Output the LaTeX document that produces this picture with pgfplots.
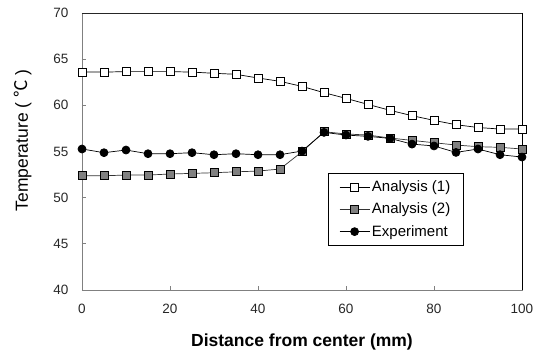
\documentclass[border=0pt]{standalone}
\usepackage{pgfplots}
\pgfplotsset{compat=1.18}
\usepackage{fontspec}
\setmainfont{Liberation Sans}
\newfontfamily\cjk{Noto Sans CJK SC}
\definecolor{axgray}{RGB}{128,128,128}
\definecolor{mkgray}{RGB}{128,128,128}
\newcommand{\lf}{\fontsize{15}{17}\selectfont}
\begin{document}
\begin{tikzpicture}[x=1pt,y=1pt]
\useasboundingbox (-82,-65) rectangle (460,290);
\begin{axis}[
  at={(0,0)}, anchor=south west,
  scale only axis, width=440pt, height=277pt,
  xmin=0, xmax=100, ymin=40, ymax=70,
  xtick={0,20,...,100}, ytick={40,45,...,70},
  tick align=inside, major tick length=4pt,
  xtick pos=bottom, ytick pos=left,
  axis line style={axgray, line width=0.8pt},
  every tick/.style={axgray, line width=0.8pt},
  /pgf/number format/assume math mode=true,
  tick label style={font=\fontsize{13.5}{15}\selectfont, text=black!85},
  xticklabel style={yshift=-11pt},
  yticklabel style={xshift=-10pt},
  xlabel={\textbf{Distance from center (mm)}},
  ylabel={Temperature ( {\cjk ℃} )},
  xlabel style={font=\fontsize{17.5}{20}\selectfont, at={(axis description cs:0.5,0)}, anchor=center, yshift=-52pt},
  ylabel style={font=\fontsize{17.5}{19}\selectfont, at={(axis description cs:-0.134,0.54)}, anchor=center},
  legend style={at={(axis description cs:0.559,0.162)}, anchor=south west,
    draw=black, line width=0.6pt, font=\lf,
    row sep=6pt, inner xsep=11pt, inner ysep=5pt, cells={anchor=west}},
  legend image code/.code={\draw[mark repeat=2,mark phase=2,#1] plot coordinates {(0pt,0pt) (15pt,0pt) (30pt,0pt)};},
  clip=false,
]
\addplot[black, line width=0.7pt, mark=square*, mark size=4pt, mark options={fill=white, draw=black, line width=0.7pt}] coordinates {
(0,63.6)(5,63.6)(10,63.65)(15,63.65)(20,63.65)(25,63.6)(30,63.47)(35,63.36)(40,62.96)(45,62.6)(50,62.05)
(55,61.37)(60,60.75)(65,60.1)(70,59.46)(75,58.88)(80,58.37)(85,57.9)(90,57.6)(95,57.43)(100,57.43)};
\addlegendentry{\lf Analysis (1)}
\addplot[black!80, line width=0.7pt, mark=square*, mark size=4pt, mark options={fill=mkgray, draw=black, line width=0.7pt}] coordinates {
(0,52.37)(5,52.37)(10,52.45)(15,52.45)(20,52.56)(25,52.63)(30,52.7)(35,52.8)(40,52.88)(45,53.1)(50,54.97)
(55,57.14)(60,56.9)(65,56.78)(70,56.46)(75,56.2)(80,55.95)(85,55.7)(90,55.52)(95,55.45)(100,55.27)};
\addlegendentry{\lf Analysis (2)}
\addplot[black, line width=0.7pt, mark=*, mark size=4pt, mark options={fill=black, draw=black}] coordinates {
(0,55.27)(5,54.87)(10,55.16)(15,54.76)(20,54.76)(25,54.87)(30,54.65)(35,54.76)(40,54.65)(45,54.65)(50,55.05)
(55,57.07)(60,56.78)(65,56.64)(70,56.42)(75,55.8)(80,55.6)(85,54.9)(90,55.27)(95,54.65)(100,54.4)};
\addlegendentry{\lf Experiment}
\draw[black!85, line width=0.8pt] (rel axis cs:0,1) -- (rel axis cs:1,1);
\draw[black, line width=0.8pt] (rel axis cs:1,1) -- (rel axis cs:1,0);
\end{axis}
\end{tikzpicture}
\end{document}
